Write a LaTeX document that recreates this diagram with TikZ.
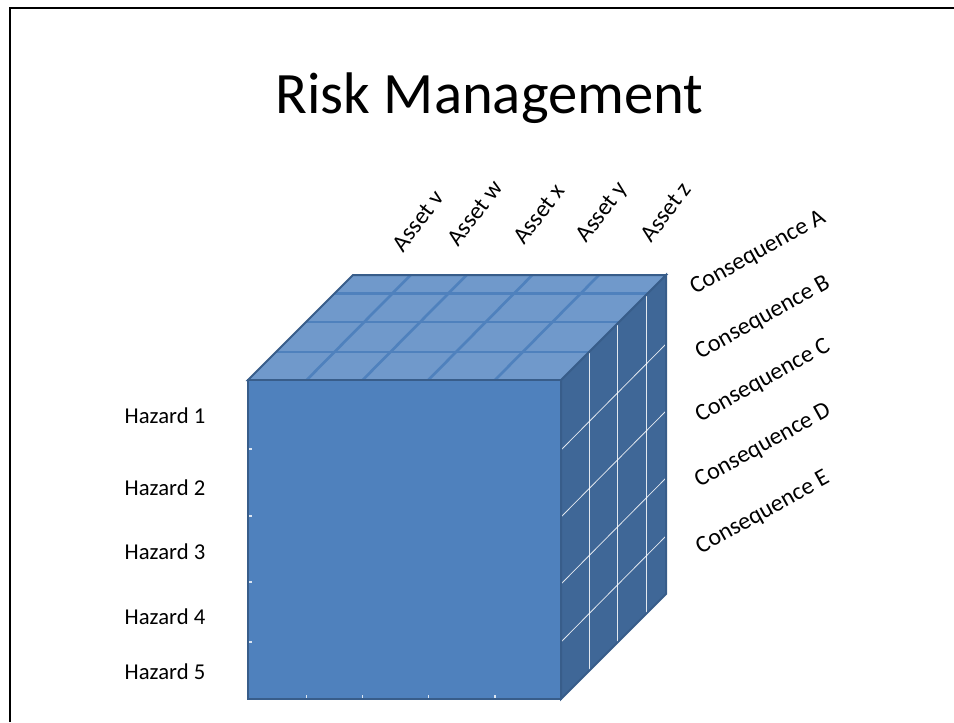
\documentclass[tikz,border=0pt]{standalone}
\usepackage{fontspec}
\setmainfont{Carlito}
\definecolor{frontblue}{HTML}{4F81BD}
\definecolor{topblue}{HTML}{7099CB}
\definecolor{sideblue}{HTML}{3F6797}
\definecolor{edgeblue}{HTML}{385D8A}
\definecolor{gridlight}{HTML}{DCE6F2}
\tikzset{
  edge/.style={draw=edgeblue, line width=1.5pt, line join=miter},
  topgrid/.style={draw=frontblue, line width=2pt},
  sidegrid/.style={draw=white, line width=0.6pt, opacity=0.85},
  tick/.style={draw=gridlight, line width=0.8pt},
  hazard/.style={font=\fontsize{17}{20}\selectfont, anchor=base, inner sep=0pt},
  asset/.style={font=\fontsize{18}{21}\selectfont, rotate=53, inner sep=0pt},
  conseq/.style={font=\fontsize{18}{21}\selectfont, rotate=29, inner sep=0pt},
}
\begin{document}
\begin{tikzpicture}[x=0.75pt,y=-0.75pt]
\useasboundingbox (0,0) rectangle (954,722);
% slide frame
\draw[line width=1.5pt] (10,722) -- (10,8) -- (954,8);

% title
\node[font=\fontsize{44}{53}\selectfont, anchor=base, inner sep=0pt] (title) at (489.5,113) {Risk Management};

% cube corners
\coordinate (F1) at (248,380);
\coordinate (F2) at (561,380);
\coordinate (F3) at (561,699);
\coordinate (F4) at (248,699);
\coordinate (B1) at (353,275);
\coordinate (B2) at (666,275);
\coordinate (B3) at (666,594);

% right face with its grid
\fill[sideblue] (F2) -- (B2) -- (B3) -- (F3) -- cycle;
\foreach \y in {450,517,584,642}
  \draw[sidegrid] (561,\y) -- (666,\y-106);
\foreach \d in {28,56,85}
  \draw[sidegrid] (561+\d,380-\d) -- (561+\d,699-\d+8);
\draw[edge] (F2) -- (B2) -- (B3) -- (F3) -- cycle;

% top face with its grid
\fill[topblue] (F1) -- (B1) -- (B2) -- (F2) -- cycle;
\foreach \x in {306.7,362.7,428.3,495}
  \draw[topgrid] (\x,380) -- (\x+104,275);
\foreach \d in {28,58,86.7}
  \draw[topgrid] (248+\d,380-\d) -- (561+\d,380-\d);
\draw[edge] (F1) -- (B1) -- (B2) -- (F2) -- cycle;

% front face
\fill[frontblue] (F1) -- (F2) -- (F3) -- (F4) -- cycle;
\foreach \y in {449,516,582,642}
  \draw[tick] (248,\y) -- (252,\y);
\foreach \x in {306.7,362.7,428.3,495}
  \draw[tick] (\x,695) -- (\x,699);
\draw[edge] (F1) -- (F2) -- (F3) -- (F4) -- cycle;

% hazard labels
\node[hazard] (h1) at (165,423.5) {Hazard 1};
\node[hazard] (h2) at (165,495)   {Hazard 2};
\node[hazard] (h3) at (165,559)   {Hazard 3};
\node[hazard] (h4) at (165,624)   {Hazard 4};
\node[hazard] (h5) at (165,679)   {Hazard 5};

% asset labels
\node[asset] (av) at (418,221) {Asset v};
\node[asset] (aw) at (475,213) {Asset w};
\node[asset] (ax) at (539,214) {Asset x};
\node[asset] (ay) at (603,213) {Asset y};
\node[asset] (az) at (666,212) {Asset z};

% consequence labels
\node[conseq] (ca) at (758,253) {Consequence A};
\node[conseq] (cb) at (763,318) {Consequence B};
\node[conseq] (cc) at (763,381) {Consequence C};
\node[conseq] (cd) at (763,446) {Consequence D};
\node[conseq] (ce) at (763,513) {Consequence E};
\end{tikzpicture}
\end{document}
